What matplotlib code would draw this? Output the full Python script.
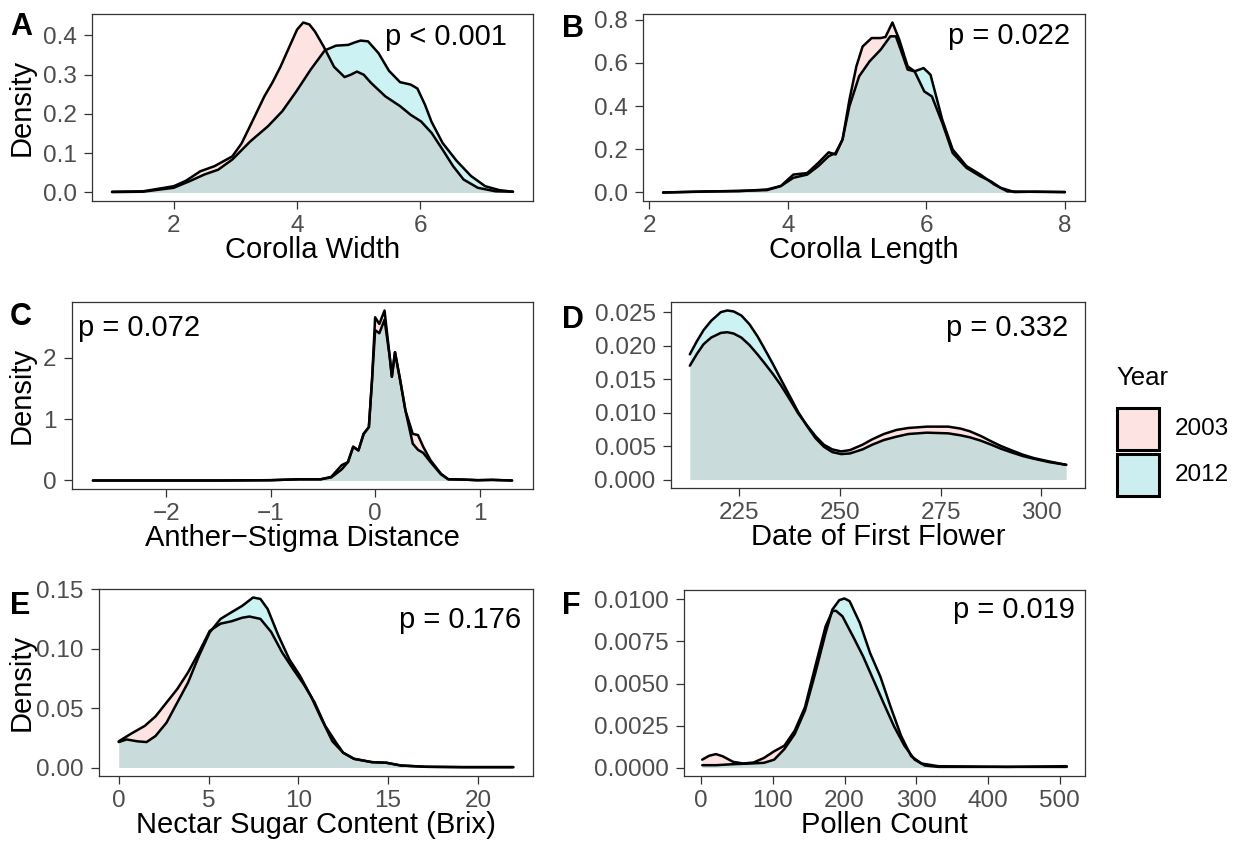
import matplotlib
matplotlib.use("Agg")
import matplotlib.pyplot as plt
from matplotlib.patches import Rectangle

plt.rcParams['font.family'] = ['Liberation Sans', 'DejaVu Sans']

W, H = 1237, 846

# ---- data (density curves, 2003 vs 2012) ----
years = ['2003', '2012']

# A: corolla width
cw_x03 = [1.0, 1.5, 2.0, 2.2, 2.43, 2.66, 2.95, 3.1, 3.24, 3.47, 3.6, 3.73, 3.9, 4.0, 4.1, 4.2, 4.29, 4.43, 4.6,
          4.77, 4.87, 4.97, 5.08, 5.2, 5.43, 5.67, 5.84, 6.01, 6.18, 6.36, 6.53, 6.7, 6.93, 7.22, 7.5]
cw_y03 = [0.002, 0.003, 0.016, 0.03, 0.054, 0.067, 0.092, 0.125, 0.17, 0.245, 0.28, 0.32, 0.38, 0.415, 0.433, 0.428,
          0.41, 0.372, 0.32, 0.294, 0.3, 0.308, 0.3, 0.279, 0.245, 0.22, 0.198, 0.181, 0.152, 0.109, 0.067, 0.033,
          0.012, 0.003, 0.002]
cw_x12 = [1.0, 1.5, 2.0, 2.26, 2.5, 2.72, 2.95, 3.24, 3.53, 3.76, 3.99, 4.22, 4.45, 4.63, 4.83, 4.93, 5.03,
          5.15, 5.32, 5.49, 5.67, 5.84, 5.95, 6.07, 6.18, 6.36, 6.59, 6.82, 7.05, 7.28, 7.5]
cw_y12 = [0.001, 0.002, 0.012, 0.029, 0.046, 0.058, 0.084, 0.13, 0.169, 0.207, 0.258, 0.313, 0.362, 0.374, 0.376,
          0.382, 0.387, 0.385, 0.355, 0.31, 0.281, 0.275, 0.265, 0.225, 0.18, 0.126, 0.08, 0.042, 0.016, 0.006, 0.002]

# B: corolla length
cl_x03 = [2.2, 2.8, 3.3, 3.7, 3.9, 4.08, 4.28, 4.44, 4.59, 4.69, 4.79, 4.89, 4.99, 5.08, 5.21, 5.34, 5.41,
          5.51, 5.61, 5.73, 5.83, 5.97, 6.08, 6.23, 6.38, 6.58, 6.78, 6.93, 7.07, 7.27, 7.57, 8.0]
cl_y03 = [0.0, 0.005, 0.006, 0.014, 0.03, 0.083, 0.09, 0.137, 0.186, 0.176, 0.245, 0.43, 0.584, 0.676, 0.715, 0.715,
          0.72, 0.787, 0.707, 0.584, 0.561, 0.468, 0.445, 0.322, 0.183, 0.114, 0.075, 0.052, 0.022, 0.002, 0.004, 0.002]
cl_x12 = [2.2, 2.8, 3.3, 3.7, 3.9, 4.08, 4.28, 4.44, 4.59, 4.69, 4.79, 4.89, 5.03, 5.18, 5.34, 5.48, 5.56,
          5.63, 5.73, 5.83, 5.96, 6.06, 6.23, 6.38, 6.58, 6.78, 6.98, 7.17, 7.57, 8.0]
cl_y12 = [0.0, 0.004, 0.008, 0.011, 0.03, 0.068, 0.083, 0.122, 0.168, 0.183, 0.245, 0.40, 0.538, 0.607, 0.661, 0.723,
          0.723, 0.661, 0.569, 0.561, 0.576, 0.545, 0.337, 0.199, 0.122, 0.083, 0.037, 0.005, 0.003, 0.002]

# C: anther-stigma distance
as_x = [-2.70, -2.0, -1.5, -1.0, -0.73, -0.52, -0.42, -0.32, -0.26, -0.21, -0.16, -0.11, -0.06, -0.03, 0.0, 0.04,
        0.09, 0.14, 0.16, 0.19, 0.24, 0.29, 0.36, 0.41, 0.46, 0.53, 0.63, 0.70, 0.84, 0.98, 1.12, 1.31]
as_y03 = [0.0, 0.0, 0.0, 0.005, 0.02, 0.02, 0.06, 0.25, 0.30, 0.55, 0.49, 0.76, 0.87, 1.63, 2.66, 2.55,
          2.77, 2.01, 1.69, 2.09, 1.63, 1.14, 0.76, 0.74, 0.55, 0.33, 0.11, 0.02, 0.015, 0.005, 0.01, 0.0]
as_y12 = [0.0, 0.0, 0.0, 0.005, 0.02, 0.02, 0.05, 0.18, 0.30, 0.55, 0.49, 0.76, 0.87, 1.63, 2.45, 2.40,
          2.62, 2.01, 1.69, 2.09, 1.63, 1.14, 0.60, 0.50, 0.45, 0.30, 0.10, 0.02, 0.015, 0.005, 0.01, 0.0]

# D: date of first flower
df_x = [212.7, 214.5, 216.1, 218.0, 220.4, 222.0, 223.6, 225.5, 227.5, 229.5, 231.1, 233.3, 235.3, 237.5, 239.6,
        241.8, 243.9, 246.0, 248.1, 250.3, 252.5, 255.6, 258.0, 260.9, 264.0, 267.0, 271.6, 276.9, 280.0, 282.3,
        285.0, 287.6, 290.0, 292.9, 295.5, 298.2, 302.0, 306.2]
df_y03 = [0.0170, 0.0188, 0.0202, 0.0212, 0.0219, 0.0220, 0.0218, 0.0212, 0.0201, 0.0187, 0.0175, 0.0158, 0.0141,
          0.0120, 0.0099, 0.0081, 0.0065, 0.0052, 0.0045, 0.0042, 0.0044, 0.0052, 0.0060, 0.0068, 0.0074, 0.0077,
          0.0079, 0.0079, 0.0076, 0.0072, 0.0065, 0.0057, 0.0050, 0.0043, 0.0037, 0.0032, 0.0027, 0.0022]
df_y12 = [0.0187, 0.0207, 0.0223, 0.0237, 0.0250, 0.02525, 0.0251, 0.0245, 0.0232, 0.0214, 0.0197, 0.0173, 0.0150,
          0.0125, 0.0101, 0.0080, 0.0062, 0.0049, 0.0041, 0.0038, 0.0039, 0.0045, 0.0052, 0.0059, 0.0064, 0.0068,
          0.0070, 0.0069, 0.0066, 0.0063, 0.0058, 0.0052, 0.0046, 0.0040, 0.0035, 0.0031, 0.0026, 0.0022]

# E: nectar sugar content
ns_x03 = [0.0, 0.64, 1.45, 2.05, 2.66, 3.26, 3.86, 4.47, 5.07, 5.67, 6.28, 6.88, 7.28, 7.89, 8.49, 9.09,
          9.7, 10.3, 10.9, 11.5, 12.1, 12.5, 13.1, 14.1, 14.9, 15.7, 17.1, 19.2, 21.97]
ns_y03 = [0.022, 0.028, 0.035, 0.043, 0.0546, 0.066, 0.080, 0.097, 0.115, 0.121, 0.123, 0.126, 0.127, 0.125, 0.114,
          0.097, 0.083, 0.070, 0.055, 0.035, 0.021, 0.0124, 0.0073, 0.0045, 0.004, 0.0017, 0.0006, 0.0003, 0.0003]
ns_x12 = [0.0, 0.44, 1.05, 1.55, 2.05, 2.66, 3.26, 3.86, 4.47, 5.07, 5.67, 6.28, 6.88, 7.48, 7.89, 8.29,
          8.89, 9.5, 10.1, 10.7, 11.3, 11.9, 12.5, 13.1, 14.1, 14.9, 15.7, 17.1, 19.2, 21.97]
ns_y12 = [0.0214, 0.0236, 0.022, 0.0214, 0.0265, 0.0377, 0.0546, 0.0715, 0.094, 0.1137, 0.125, 0.1306, 0.136, 0.143,
          0.1418, 0.1334, 0.111, 0.091, 0.077, 0.060, 0.0405, 0.022, 0.0124, 0.0073, 0.0045, 0.004, 0.0017, 0.0006,
          0.0003, 0.0003]

# F: pollen count
pc_x03 = [1.4, 11, 20.5, 30, 44.5, 58.8, 73, 87.5, 101.8, 116, 130.5, 144.8, 159, 173.5, 183, 187.9, 197,
          211.8, 226, 240.4, 254.8, 269, 283.5, 297.8, 312, 331, 379, 427, 510]
pc_y03 = [0.00047, 0.0007, 0.0008, 0.00067, 0.00034, 0.00024, 0.0003, 0.00057, 0.00097, 0.0013, 0.0022, 0.0036,
          0.006, 0.0084, 0.0093, 0.00933, 0.009, 0.0078, 0.0066, 0.0052, 0.0038, 0.00245, 0.0013, 0.00047, 0.00012,
          0.00004, 0.00004, 0.00004, 0.00004]
pc_x12 = [1.4, 20.5, 44.5, 68, 87.5, 101.8, 116, 130.5, 144.8, 159, 173.5, 183, 192.6, 199.8, 207, 221.3,
          235.7, 250, 264.3, 278.7, 293, 307.4, 331, 379, 427, 510]
pc_y12 = [0.00014, 0.00014, 0.0002, 0.00024, 0.00028, 0.00047, 0.0011, 0.002, 0.0034, 0.0056, 0.008, 0.0094,
          0.00996, 0.01006, 0.0099, 0.0086, 0.0068, 0.0054, 0.0036, 0.0019, 0.00067, 0.00024, 0.00008, 0.00006,
          0.00004, 0.00008]

panels = [
    dict(letter='A', c03=(cw_x03, cw_y03), c12=(cw_x12, cw_y12),
         xt=[2, 4, 6], xtl=['2', '4', '6'],
         yt=[0, 0.1, 0.2, 0.3, 0.4], ytl=['0.0', '0.1', '0.2', '0.3', '0.4'],
         xlab='Corolla Width', box=(92, 14, 533, 201), p='p < 0.001', pp=(507, 45, 'right'),
         ylab=True, lbase=35),
    dict(letter='B', c03=(cl_x03, cl_y03), c12=(cl_x12, cl_y12),
         xt=[2, 4, 6, 8], xtl=['2', '4', '6', '8'],
         yt=[0, 0.2, 0.4, 0.6, 0.8], ytl=['0.0', '0.2', '0.4', '0.6', '0.8'],
         xlab='Corolla Length', box=(643, 14, 1085, 201), p='p = 0.022', pp=(1070, 44, 'right'),
         ylab=False, lbase=37),
    dict(letter='C', c03=(as_x, as_y03), c12=(as_x, as_y12),
         xt=[-2, -1, 0, 1], xtl=['\u22122', '\u22121', '0', '1'],
         yt=[0, 1, 2], ytl=['0', '1', '2'],
         xlab='Anther\u2212Stigma Distance', box=(72, 302, 533, 489), p='p = 0.072', pp=(78, 336, 'left'),
         ylab=True, lbase=325),
    dict(letter='D', c03=(df_x, df_y03), c12=(df_x, df_y12),
         xt=[225, 250, 275, 300], xtl=['225', '250', '275', '300'],
         yt=[0, 0.005, 0.01, 0.015, 0.02, 0.025], ytl=['0.000', '0.005', '0.010', '0.015', '0.020', '0.025'],
         xlab='Date of First Flower', box=(671, 302, 1085, 488), p='p = 0.332', pp=(1068, 336, 'right'),
         ylab=False, lbase=328),
    dict(letter='E', c03=(ns_x03, ns_y03), c12=(ns_x12, ns_y12),
         xt=[0, 5, 10, 15, 20], xtl=['0', '5', '10', '15', '20'],
         yt=[0, 0.05, 0.1, 0.15], ytl=['0.00', '0.05', '0.10', '0.15'],
         xlab='Nectar Sugar Content (Brix)', box=(99, 589, 533, 776), p='p = 0.176', pp=(521, 628, 'right'),
         ylab=True, lbase=614),
    dict(letter='F', c03=(pc_x03, pc_y03), c12=(pc_x12, pc_y12),
         xt=[0, 100, 200, 300, 400, 500], xtl=['0', '100', '200', '300', '400', '500'],
         yt=[0, 0.0025, 0.005, 0.0075, 0.01], ytl=['0.0000', '0.0025', '0.0050', '0.0075', '0.0100'],
         xlab='Pollen Count', box=(684, 590, 1085, 776), p='p = 0.019', pp=(1075, 618, 'right'),
         ylab=False, lbase=614),
]

col03 = '#F8766D'
col12 = '#00BFC4'
alpha = 0.2
key03 = '#FDE3E1'
key12 = '#CDEEF0'
grey = '#333333'

fig = plt.figure(figsize=(W / 100, H / 100), dpi=100)


def fx(px):
    return px / W


def fy(py):
    return 1 - py / H


for p in panels:
    l, t, r, b = p['box']
    ax = fig.add_axes([fx(l), fy(b), (r - l) / W, (b - t) / H])
    for (xs, ys), col in ((p['c03'], col03), (p['c12'], col12)):
        ax.fill_between(xs, 0, ys, color=col, alpha=alpha, lw=0)
        ax.plot(xs, ys, color='black', lw=1.8, solid_capstyle='round', solid_joinstyle='round')
    allx = list(p['c03'][0]) + list(p['c12'][0])
    ymax = max(max(p['c03'][1]), max(p['c12'][1]))
    span = max(allx) - min(allx)
    ax.set_xlim(min(allx) - 0.05 * span, max(allx) + 0.05 * span)
    ax.set_ylim(-0.05 * ymax, 1.05 * ymax)
    ax.set_xticks(p['xt'])
    ax.set_xticklabels(p['xtl'])
    ax.set_yticks(p['yt'])
    ax.set_yticklabels(p['ytl'])
    ax.tick_params(length=6, width=0.9, color=grey, labelcolor='#4D4D4D', labelsize=17.5)
    ax.tick_params(axis='x', pad=4)
    ax.tick_params(axis='y', pad=5)
    for s in ax.spines.values():
        s.set_color(grey)
        s.set_linewidth(0.9)
    cx = (l + r) / 2
    fig.text(fx(cx), fy(b + 49), p['xlab'], ha='center', va='center', fontsize=21)
    if p['ylab']:
        fig.text(fx(22), fy((t + b) / 2), 'Density', rotation=90, ha='center', va='center', fontsize=21)
    px, py, ha = p['pp']
    fig.text(fx(px), fy(py), p['p'], ha=ha, va='baseline', fontsize=21)
    lx = 10 if l < 300 else 562
    fig.text(fx(lx), fy(p['lbase']), p['letter'], ha='left', va='baseline', fontsize=22, fontweight='bold')

# legend
fig.text(fx(1116), fy(378), 'Year', ha='left', va='center', fontsize=18.5)
for i, (yr, kc) in enumerate(zip(years, [key03, key12])):
    top = 408 + i * 46
    fig.add_artist(Rectangle((fx(1117), fy(top + 42)), 42 / W, 42 / H, transform=fig.transFigure,
                             facecolor=kc, edgecolor='black', lw=2.2))
    fig.text(fx(1175), fy(top + 21), yr, ha='left', va='center', fontsize=17.5, color='black')

fig.savefig('out.png', dpi=100)
